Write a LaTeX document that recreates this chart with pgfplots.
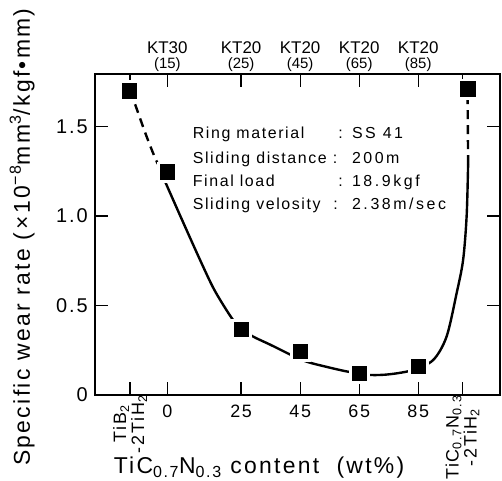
\documentclass[border=0pt]{standalone}
\usepackage{fontspec}
\setmainfont{Liberation Sans}
\newfontfamily\lsf[LetterSpace=10]{Liberation Sans}
\newfontfamily\lsw[LetterSpace=22]{Liberation Sans}
\newfontfamily\lsv[LetterSpace=16]{Liberation Sans}
\usepackage{pgfplots}
\pgfplotsset{compat=1.18}
\newcommand{\fs}[1]{\fontsize{#1}{#1}\selectfont}

\begin{document}
\begin{tikzpicture}
\begin{axis}[
  scale only axis, width=405bp, height=321bp,
  xmin=-24.5, xmax=112.7, ymin=0, ymax=1.793,
  clip=false,
  axis line style={line width=1.6bp},
  every tick/.style={black, line width=1.3bp},
  major tick length=13bp,
  tick align=inside,
  /pgf/number format/assume math mode=true,
  xtick={0,25,45,65,85},
  xticklabels={0,25,45,65,85},
  xticklabel style={font=\fs{18}\lsf, inner sep=0pt, yshift=-10bp},
  extra x ticks={-12.6,100},
  extra x tick labels={{TiB\textsubscript{2}\\-2TiH\textsubscript{2}},{TiC\textsubscript{0.7}N\textsubscript{0.3}\\-2TiH\textsubscript{2}}},
  extra x tick style={tick label style={rotate=90, anchor=east, align=center, font=\fontsize{14}{24}\selectfont\lsw, yshift=10bp}},
  ytick={0,0.5,1.0,1.5},
  yticklabels={0,0.5,1.0,1.5},
  yticklabel style={font=\fs{20}\lsf, inner sep=0pt, xshift=-7bp},
  xlabel={TiC\textsubscript{0.7}N\textsubscript{0.3} content\ \ (wt\%)},
  every axis x label/.style={font=\fs{23}\lsf, at={(axis description cs:0.405,-0.245)}, anchor=base, inner sep=0pt},
  ylabel={Specific wear rate (\,×10\textsuperscript{−8}mm\textsuperscript{3}/kgf•mm)},
  every axis y label/.style={font=\fs{23}\lsf, at={(axis description cs:-0.180,0.492)}, anchor=center, rotate=90, inner sep=0pt},
]
% dashed left
\addplot[black, line width=2.4bp, dash pattern=on 9bp off 6bp, smooth] coordinates {(-13,1.70)(-11.5,1.65)(-7,1.443)(-3,1.285)(0,1.247)};
% solid fitted curve
\addplot[black, line width=2.4bp, smooth] coordinates {(-1.5,1.22)(4.4,1.0)(11.1,0.754)(16,0.585)(21.8,0.43)(25,0.37)(29.1,0.326)(35,0.28)(41.5,0.227)(47.2,0.186)(55,0.153)(61.3,0.130)(68.6,0.112)(75.4,0.116)(83.3,0.14)(90.1,0.196)(94.6,0.326)(98,0.568)(100.2,0.754)(101.4,1.0)(101.9,1.29)};
% dashed right
\addplot[black, line width=2.4bp, dash pattern=on 9bp off 6bp] coordinates {(101.9,1.29)(101.8,1.5)(101.7,1.71)};
% white halos
\addplot[only marks, mark=square*, mark size=10bp, white, mark options={draw=white, fill=white}] coordinates {(-13,1.70)(0,1.247)(25,0.369)(45,0.246)(65,0.121)(85,0.162)(101.7,1.71)};
% markers
\addplot[only marks, mark=square*, mark size=7.2bp, black, mark options={draw=black, fill=black}] coordinates {(-13,1.70)(0,1.247)(25,0.369)(45,0.246)(65,0.121)(85,0.162)(101.7,1.71)};

% top labels
\foreach \xx/\aa/\bb in {0/KT30/(15),25/KT20/(25),45/KT20/(45),65/KT20/(65),85/KT20/(85)}{
  \edef\tmp{\noexpand\node[anchor=base, inner sep=0pt, font=\noexpand\fs{17}, yshift=20bp] at (axis cs:\xx,1.793) {\aa};
  \noexpand\node[anchor=base, inner sep=0pt, font=\noexpand\fs{15}, yshift=5bp] at (axis cs:\xx,1.793) {\bb};}
  \tmp
}

% annotation
\begin{scope}[every node/.style={anchor=base west, inner sep=0pt, font=\fs{16}\lsf}]
\node at (axis cs:8.6,1.430) {Ring material};
\node at (axis cs:8.6,1.291) {Sliding distance};
\node at (axis cs:8.6,1.162) {Final load};
\node at (axis cs:8.6,1.034) {Sliding velosity};
\node at (axis cs:57.9,1.430) {:};
\node at (axis cs:56.0,1.291) {:};
\node at (axis cs:57.9,1.162) {:};
\node at (axis cs:56.2,1.034) {:};
\node[font=\fs{16}\lsv] at (axis cs:62.5,1.430) {SS 41};
\node[font=\fs{16}\lsv] at (axis cs:62.5,1.291) {200m};
\node[font=\fs{16}\lsv] at (axis cs:62.5,1.162) {18.\,9kgf};
\node[font=\fs{16}\lsv] at (axis cs:62.5,1.034) {2.\,38m/sec};
\end{scope}

\coordinate (SW) at (rel axis cs:0,0);
\coordinate (NE) at (rel axis cs:1,1);
\end{axis}
\pgfresetboundingbox
\path ([xshift=-95bp,yshift=-86bp]SW) rectangle ([xshift=2bp,yshift=74bp]NE);
\end{tikzpicture}
\end{document}
